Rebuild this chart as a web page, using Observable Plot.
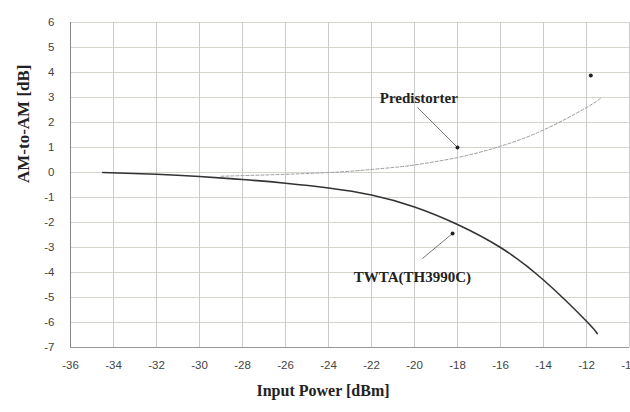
<!DOCTYPE html>
<html>
<head>
<meta charset="utf-8">
<script src="https://cdn.jsdelivr.net/npm/d3@7"></script>
<script src="https://cdn.jsdelivr.net/npm/@observablehq/plot@0.6"></script>
<style>
  html, body { margin: 0; padding: 0; background: #fff; }
  #chart svg { display: block; }
</style>
</head>
<body>
<div id="chart"></div>
<script>
// TWTA (TH3990C) AM-to-AM curve
const twtaInput = [-34.5, -32, -30, -28, -26, -24, -22, -20, -18, -16, -14, -12, -11.5];
const twtaGain  = [0, -0.07, -0.16, -0.28, -0.43, -0.62, -0.9, -1.38, -2.08, -3.0, -4.3, -5.95, -6.45];

// Predistorter AM-to-AM curve
const predInput = [-29, -27, -25, -23, -21, -20, -18, -16, -14, -12, -11.3];
const predGain  = [-0.15, -0.1, -0.04, 0.05, 0.2, 0.3, 0.6, 1.05, 1.7, 2.6, 3.0];

// Axis ticks
const xTicks = [-36, -34, -32, -30, -28, -26, -24, -22, -20, -18, -16, -14, -12, -10];
const yTicks = [-7, -6, -5, -4, -3, -2, -1, 0, 1, 2, 3, 4, 5, 6];

// Annotations (data units)
const annoText  = ["Predistorter", "TWTA(TH3990C)"];
const annoX     = [-19.8, -20.1];
const annoY     = [2.96, -4.2];
const leaderX1  = [-19.86, -19.63];
const leaderY1  = [2.6, -3.44];
const leaderX2  = [-18.0, -18.23];
const leaderY2  = [1.0, -2.44];
const strayDotX = [-11.8];
const strayDotY = [3.88];

const twta = twtaInput.map((x, i) => ({x, y: twtaGain[i]}));
const pred = predInput.map((x, i) => ({x, y: predGain[i]}));
const annos = annoText.map((t, i) => ({text: t, x: annoX[i], y: annoY[i]}));
const leaders = leaderX1.map((x1, i) => ({x1, y1: leaderY1[i], x2: leaderX2[i], y2: leaderY2[i]}));
const dots = leaderX2.map((x, i) => ({x, y: leaderY2[i]})).concat(strayDotX.map((x, i) => ({x, y: strayDotY[i]})));

const serif = "'Liberation Serif', 'DejaVu Serif', serif";

const chart = Plot.plot({
  width: 630,
  height: 412,
  marginLeft: 70,
  marginRight: 1,
  marginTop: 22,
  marginBottom: 65,
  style: {background: "#fff", fontFamily: "'Liberation Sans', Arial, sans-serif", fontSize: "11px", color: "#444"},
  x: {domain: [-36, -10], ticks: xTicks, tickFormat: d => String(d), tickSize: 0, tickPadding: 13, label: null},
  y: {domain: [-7, 6], ticks: yTicks, tickFormat: d => String(d), tickSize: 0, tickPadding: 16, label: null},
  marks: [
    Plot.gridX(xTicks, {stroke: "#bdbdbd", strokeOpacity: 1, strokeWidth: 0.8}),
    Plot.gridY(yTicks, {stroke: "#cacac2", strokeOpacity: 1, strokeWidth: 0.8}),
    Plot.ruleX([-36], {stroke: "#888", strokeWidth: 1}),
    Plot.ruleY([-7], {stroke: "#999", strokeWidth: 1}),
    Plot.axisX({ticks: xTicks, tickFormat: d => String(d), tickSize: 0, tickPadding: 13, fontSize: 11.5, fill: "#444"}),
    Plot.axisY({ticks: yTicks, tickFormat: d => String(d), tickSize: 0, tickPadding: 16, fontSize: 11.5, fill: "#444"}),
    Plot.line(pred, {x: "x", y: "y", stroke: "#9a9a9a", strokeWidth: 1, strokeDasharray: "3,2", curve: "natural"}),
    Plot.line(twta, {x: "x", y: "y", stroke: "#333", strokeWidth: 1.6, curve: "natural"}),
    Plot.link(leaders, {x1: "x1", y1: "y1", x2: "x2", y2: "y2", stroke: "#555", strokeWidth: 0.8}),
    Plot.dot(dots, {x: "x", y: "y", r: 2, fill: "#222", stroke: "none"}),
    Plot.text(annos, {x: "x", y: "y", text: "text", fontFamily: serif, fontWeight: "bold", fontSize: 15, fill: "#222", textAnchor: "middle"}),
    Plot.text(["Input Power [dBm]"], {frameAnchor: "bottom", dx: -27, dy: 48, fontFamily: serif, fontWeight: "bold", fontSize: 16, fill: "#222"}),
    Plot.text(["AM-to-AM [dB]"], {frameAnchor: "left", dx: -47, dy: -2, rotate: -90, fontFamily: serif, fontWeight: "bold", fontSize: 17, fill: "#222"})
  ]
});
document.getElementById("chart").appendChild(chart);
</script>
</body>
</html>
